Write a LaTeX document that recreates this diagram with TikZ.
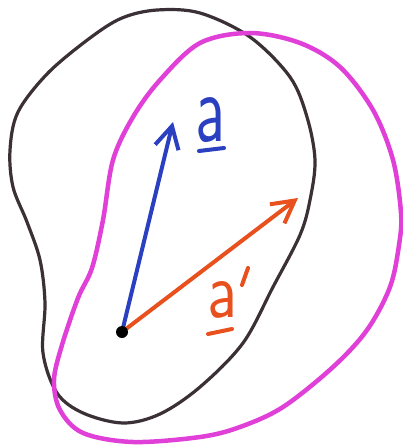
\documentclass[tikz,border=0pt]{standalone}
\usetikzlibrary{arrows.meta}
\definecolor{blobblack}{HTML}{3A3035}
\definecolor{blobmag}{HTML}{E040D8}
\definecolor{vecblue}{HTML}{2A40C0}
\definecolor{vecorange}{HTML}{E8501E}
\tikzset{
  blobk/.style={line width=3.2pt, line cap=round, line join=round, blobblack},
  blobm/.style={line width=4.5pt, line cap=round, line join=round, blobmag},
  vec/.style={line width=4pt, line cap=round, -{Straight Barb[length=22pt,width=24pt,line width=4pt]}},
  lbl/.style={font=\sffamily, inner sep=0pt},
  uline/.style={line width=4pt, line cap=round}
}
\begin{document}
\begin{tikzpicture}[x=1pt,y=-1pt]
\useasboundingbox (0,0) rectangle (403,446);
\fill[white] (0,0) rectangle (403,446);
% black blob
\draw[blobk] plot[smooth cycle, tension=0.55] coordinates {
 (157,10) (200,13) (250,37) (290,77) (307,117) (315,160) (310,200)
 (300,235) (273,287) (243,343) (200,387) (160,414) (123,423) (83,413)
 (57,393) (43,353) (45,303) (40,260) (27,222) (13,187) (10,150)
 (18,112) (48,73) (90,38) (122,18)};
% magenta blob
\draw[blobm] plot[smooth cycle, tension=0.55] coordinates {
 (250,33) (300,43) (340,67) (373,110) (393,160) (401,213) (399,245)
 (390,287) (367,330) (333,367) (283,407) (240,427) (200,437) (133,442)
 (83,433) (60,410) (54,380) (62,345) (78,298) (92,268) (103,220)
 (113,160) (133,117) (160,80) (200,43)};
% vectors
\coordinate (o) at (122,332);
\coordinate (ta) at (173,122);
\coordinate (tb) at (298,198);
\draw[vec, vecblue] (o) -- (ta);
\draw[vec, vecorange] (o) -- (tb);
\node[circle, fill=black, inner sep=0pt, minimum size=12pt] (dot) at (o) {};
% labels
\node[lbl, text=vecblue] (la) at (211,120) {\resizebox{30pt}{44pt}{a}};
\draw[uline, vecblue] (199,151) -- (224,148);
\node[lbl, text=vecorange] (lb) at (222,300) {\resizebox{30pt}{36pt}{a}};
\draw[uline, vecorange] (208,334) -- (232,329);
\draw[uline, vecorange] (248,268) -- (242,285);
\end{tikzpicture}
\end{document}
